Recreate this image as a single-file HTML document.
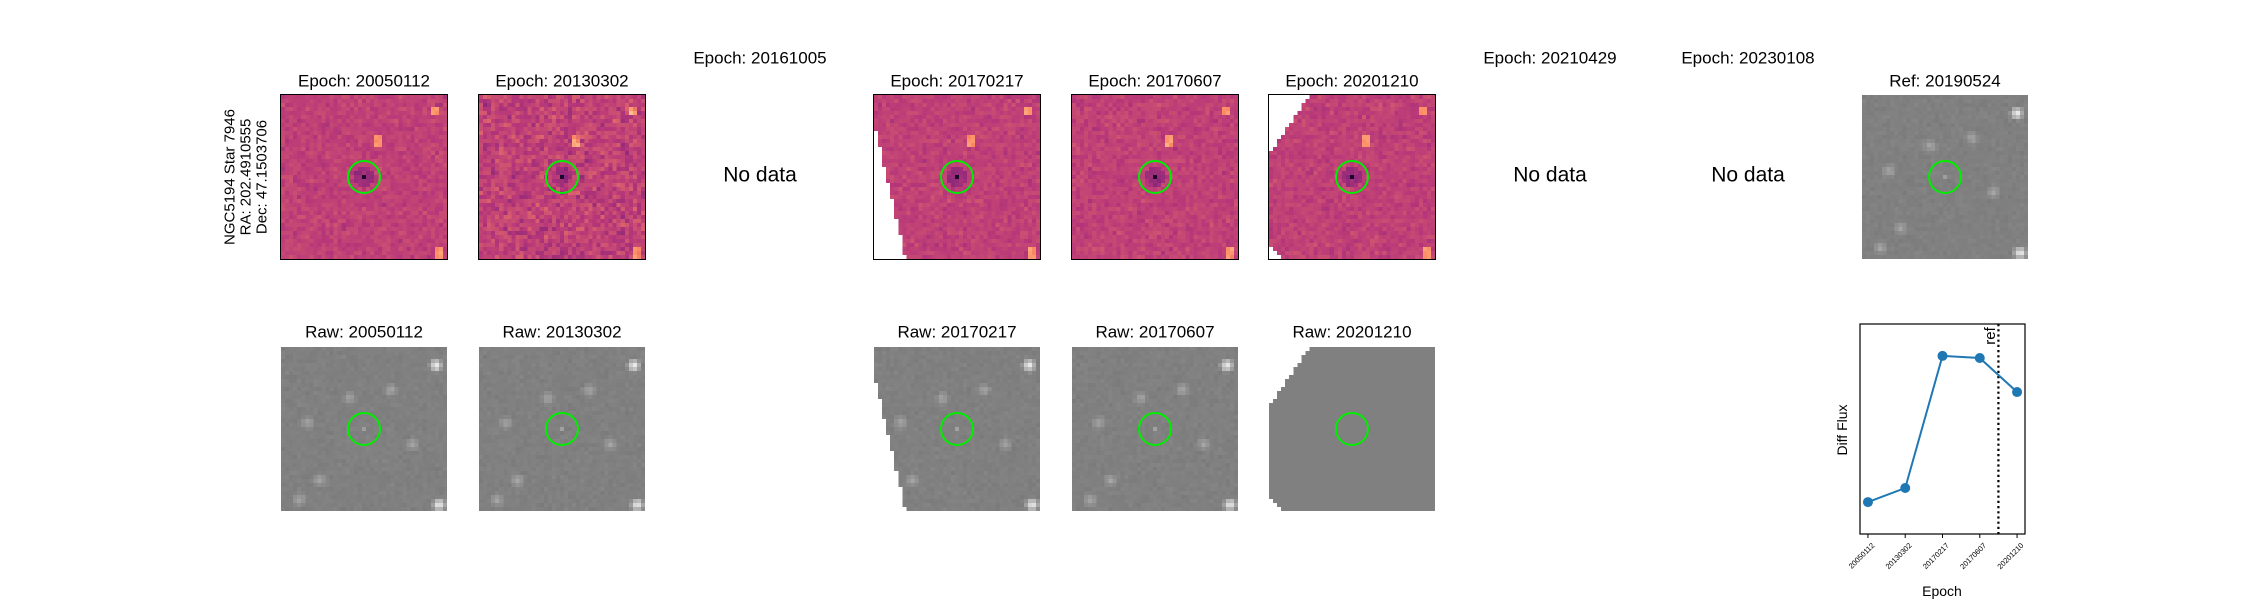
<!DOCTYPE html>
<html><head><meta charset="utf-8">
<style>
body{margin:0;background:#fff;width:2250px;height:600px;overflow:hidden;position:relative;font-family:"Liberation Sans","DejaVu Sans",sans-serif}
canvas{position:absolute;image-rendering:pixelated}
svg{position:absolute;left:0;top:0}
</style></head><body>
<div id="imgs"></div>
<svg id="ov" width="2250" height="600"></svg>
<script>
const categories=["20050112","20130302","20170217","20170607","20201210"];
const fluxValues=[15.2,21.9,84.8,83.8,67.6];
const refPosition=[3.5];
const refLabel=["ref"];

const colX=[281,479,677,874,1072,1269,1467,1665,1862];
const W=166,H=164,R1=95,R2=347;
const NS="http://www.w3.org/2000/svg";
const ov=document.getElementById('ov');
function st(el,a){for(const k in a)el.setAttribute(k,a[k]);return el;}
function txt(x,y,s,size,extra){const t=document.createElementNS(NS,'text');st(t,{x:x,y:y,'font-size':size,'text-anchor':'middle','dominant-baseline':'central',fill:'#000','font-family':'"Liberation Sans","DejaVu Sans",sans-serif'});if(extra)st(t,extra);t.textContent=s;ov.appendChild(t);return t;}
let seed=7;function rnd(){seed=(seed*16807)%2147483647;return seed/2147483647;}
function gauss(){return (rnd()+rnd()+rnd()-1.5)/1.5;}
const mag=[[0,0,4],[81,18,124],[183,55,121],[252,137,97],[252,253,191]];
function magma(v){v=Math.max(0,Math.min(1,v))*4;const i=Math.min(3,Math.floor(v)),f=v-i;return mag[i].map((c,k)=>Math.round(c+(mag[i+1][k]-c)*f));}
const N=41;
function makeCanvas(x,y,kind,sd,mask,frame,noisy){
  const c=document.createElement('canvas');c.width=N;c.height=N;
  c.style.left=x+'px';c.style.top=y+'px';c.style.width=W+'px';c.style.height=H+'px';
  
  
  const g=c.getContext('2d');const im=g.createImageData(N,N);seed=sd;
  const dstars=[[0.92,0.08],[0.94,0.95],[0.57,0.27]];
  const stars=[[0.92,0.1],[0.94,0.95],[0.1,0.92],[0.65,0.25],[0.78,0.58],[0.22,0.8],[0.4,0.3],[0.15,0.45]];
  for(let j=0;j<N;j++)for(let i=0;i<N;i++){
    const u=i/N,v=j/N;let col;
    if(mask&&mask(u,v)){col=[255,255,255];}
    else if(kind==='diff'){let val=0.53+gauss()*(noisy?0.13:0.07);
      if(Math.abs(i-20)<1&&Math.abs(j-20)<1)val=0.08;
      else if(Math.hypot(i-20,j-20)<2.5)val-=0.1;
      dstars.forEach(s=>{if(Math.abs(u-s[0])<0.03&&Math.abs(v-s[1])<0.03)val+=0.25;});
      col=magma(val);}
    else{let val=128+gauss()*7;
      stars.forEach((s,k)=>{const d=Math.hypot(u-s[0],v-s[1]);const a=k<2?120:40;if(d<0.05)val+=a*(1-d/0.05);});
      if(Math.abs(i-20)<1&&Math.abs(j-20)<1)val+=30;
      if(mask===m3)val=128;
      val=Math.max(0,Math.min(255,val));col=[val,val,val];}
    const p=(j*N+i)*4;im.data[p]=col[0];im.data[p+1]=col[1];im.data[p+2]=col[2];im.data[p+3]=255;}
  g.putImageData(im,0,0);
  if(frame)c.style.outline='1.3px solid #000';
  document.getElementById('imgs').appendChild(c);
  const ci=document.createElementNS(NS,'circle');
  st(ci,{cx:x+W/2,cy:y+H/2,r:16,fill:'none',stroke:'#00ee00','stroke-width':2});
  
  
  ov.appendChild(ci);
}
const m2=(u,v)=>v>0.2&&u<0.18*(v-0.2)/0.8;
const m3=(u,v)=>(u<0.22*(1-v/0.34)&&v<0.34)||(v>0.92&&u<0.1*(v-0.92)/0.08);
const rows=[
 {c:0,d:'20050112',m:null},{c:1,d:'20130302',m:null},{c:3,d:'20170217',m:m2},{c:4,d:'20170607',m:null},{c:5,d:'20201210',m:m3}];
rows.forEach((r,k)=>{
  makeCanvas(colX[r.c],R1,'diff',11+k*2,r.m,true,k==1);
  txt(colX[r.c]+W/2,81,'Epoch: '+r.d,17);
  makeCanvas(colX[r.c],R2,'raw',101+k*3,r.m,false,false);
  txt(colX[r.c]+W/2,332,'Raw: '+r.d,17);
});
[[2,'20161005'],[6,'20210429'],[7,'20230108']].forEach(a=>{
  txt(colX[a[0]]+W/2,58,'Epoch: '+a[1],17);
  txt(colX[a[0]]+W/2,175,'No data',21);
});
makeCanvas(colX[8],R1,'raw',555,null,false,false);
txt(colX[8]+W/2,81,'Ref: 20190524',17);
const lab=[['NGC5194 Star 7946',230],['RA: 202.4910555',246],['Dec: 47.1503706',262]];
lab.forEach(l=>{const t=txt(l[1],177,l[0],15,{transform:'rotate(-90 '+l[1]+' 177)'});});

const ax={l:1860,r:2025,t:324,b:534};
const pad=0.213;
const xs=i=>ax.l+(i+pad)/(categories.length-1+2*pad)*(ax.r-ax.l);
const ys=v=>ax.b-(v/100)*(ax.b-ax.t);
const g=document.createElementNS(NS,'g');ov.appendChild(g);
const rl=document.createElementNS(NS,'line');
st(rl,{x1:xs(refPosition[0]),x2:xs(refPosition[0]),y1:ax.t,y2:ax.b,stroke:'#000','stroke-width':2.2,'stroke-dasharray':'2.2,3'});


g.appendChild(rl);
const rt=txt(xs(refPosition[0])-8,ax.t+12,refLabel[0],15,{transform:'rotate(-90 '+(xs(refPosition[0])-8)+' '+(ax.t+12)+')'});

const pl=document.createElementNS(NS,'polyline');
st(pl,{points:fluxValues.map((v,i)=>xs(i)+','+ys(v)).join(' '),fill:'none',stroke:'#1f77b4','stroke-width':2});


g.appendChild(pl);
fluxValues.forEach((v,i)=>{const c=document.createElementNS(NS,'circle');st(c,{cx:xs(i),cy:ys(v),r:5,fill:'#1f77b4'});


g.appendChild(c);
const tk=document.createElementNS(NS,'line');st(tk,{x1:xs(i),x2:xs(i),y1:ax.b,y2:ax.b+4,stroke:'#000','stroke-width':1});g.appendChild(tk);
const tx=xs(i)+3,ty=ax.b+8;
const t=document.createElementNS(NS,'text');st(t,{x:tx,y:ty,'font-size':7.5,'text-anchor':'end','font-family':'"Liberation Sans",sans-serif',transform:'rotate(-45 '+tx+' '+ty+')','dominant-baseline':'hanging'});t.textContent=categories[i];


g.appendChild(t);});
const fr=document.createElementNS(NS,'rect');st(fr,{x:ax.l,y:ax.t,width:ax.r-ax.l,height:ax.b-ax.t,fill:'none',stroke:'#000','stroke-width':1.2});


g.appendChild(fr);
txt(1942,591,'Epoch',14);
txt(1842,430,'Diff Flux',14,{transform:'rotate(-90 1842 430)'});
</script>
</body></html>
